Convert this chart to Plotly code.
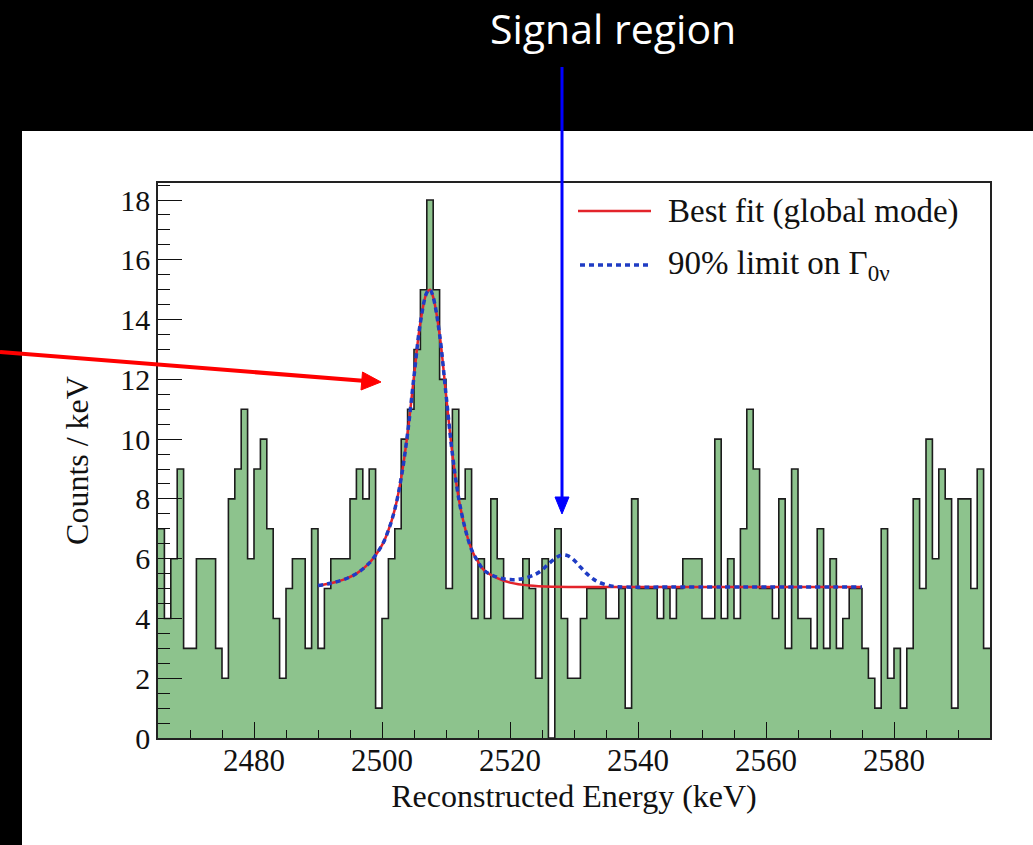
import plotly.graph_objects as go

# ---------------- data ----------------
BIN_START = 2465   # keV, lower edge of first bin
BIN_WIDTH = 1      # keV
counts = [
    7, 4, 6, 9, 3, 3, 6, 6, 6, 3,
    2, 8, 9, 11, 6, 9, 10, 7, 4, 2,
    5, 6, 6, 3, 7, 3, 5, 6, 6, 6,
    8, 9, 8, 9, 1, 4, 6, 7, 10, 11,
    13, 15, 18, 15, 12, 5, 11, 8, 9, 4,
    6, 4, 8, 6, 4, 4, 4, 6, 5, 2,
    6, 0, 7, 4, 2, 2, 4, 5, 5, 5,
    4, 4, 5, 1, 8, 5, 5, 5, 4, 5,
    4, 5, 6, 6, 6, 4, 4, 10, 4, 6,
    4, 7, 11, 9, 5, 5, 4, 8, 3, 9,
    4, 4, 3, 7, 3, 6, 3, 4, 5, 5,
    3, 2, 1, 7, 2, 3, 1, 3, 8, 5,
    10, 6, 9, 8, 1, 8, 8, 5, 9, 3,
]

fit_energy = [2490, 2492, 2494, 2496, 2498, 2500, 2501, 2502, 2503, 2504,
              2505, 2506, 2507, 2507.5, 2508, 2509, 2510, 2511, 2512, 2513,
              2514, 2515, 2516, 2518, 2520, 2523, 2527, 2535, 2575]
fit_best = [5.10, 5.18, 5.30, 5.50, 5.85, 6.45, 6.95, 7.65, 8.70, 10.2,
            12.1, 13.9, 14.9, 15.0, 14.75, 13.5, 11.5, 9.5, 8.0, 7.0,
            6.3, 5.9, 5.6, 5.35, 5.2, 5.1, 5.06, 5.05, 5.05]

lim_energy = [2490, 2492, 2494, 2496, 2498, 2500, 2501, 2502, 2503, 2504,
              2505, 2506, 2507, 2507.5, 2508, 2509, 2510, 2511, 2512, 2513,
              2514, 2515, 2516, 2518, 2520, 2522, 2524, 2525, 2526, 2527,
              2528, 2529, 2530, 2531, 2532, 2533, 2534, 2536, 2538, 2545, 2575]
lim_values = [5.10, 5.18, 5.30, 5.50, 5.85, 6.45, 6.95, 7.65, 8.70, 10.2,
              12.1, 13.9, 14.9, 15.0, 14.75, 13.5, 11.5, 9.5, 8.0, 7.0,
              6.3, 5.9, 5.6, 5.38, 5.30, 5.33, 5.48, 5.62, 5.82, 6.0,
              6.12, 6.10, 5.95, 5.72, 5.50, 5.32, 5.20, 5.08, 5.05, 5.05, 5.05]

legend_labels = ["Best fit (global mode)", "90% limit on \u0393<sub>0\u03bd</sub>"]
x_title = "Reconstructed Energy (keV)"
y_title = "Counts / keV"
callout = "Signal region"

# ---------------- layout geometry (pixels) ----------------
W, H = 1033, 845
L, R, T, B = 158, 43, 183, 107
PW, PH = W - L - R, H - T - B


def px(xp):
    return (xp - L) / PW


def py(yp):
    return (H - B - yp) / PH


edges = [BIN_START + i * BIN_WIDTH for i in range(len(counts) + 1)]
step_y = counts + [counts[-1]]

fig = go.Figure()
fig.add_trace(go.Scatter(
    x=edges, y=step_y, mode="lines", line_shape="hv",
    line=dict(color="#1c1c1c", width=1.6),
    fill="tozeroy", fillcolor="rgb(141,195,141)",
    showlegend=False, hoverinfo="skip"))
fig.add_trace(go.Scatter(
    x=fit_energy, y=fit_best, mode="lines", line_shape="spline",
    line=dict(color="#e3242b", width=2.5), showlegend=False))
fig.add_trace(go.Scatter(
    x=lim_energy, y=lim_values, mode="lines", line_shape="spline",
    line=dict(color="#1f3cc4", width=3.5, dash="5px,4px"), showlegend=False))

serif = "Liberation Serif, Times New Roman, serif"

shapes = []
# white panel behind the chart
shapes.append(dict(type="rect", xref="paper", yref="paper",
                   x0=px(22), x1=px(W + 5), y0=py(H + 5), y1=py(131),
                   fillcolor="white", line=dict(width=0), layer="below"))
# legend samples
shapes.append(dict(type="line", xref="paper", yref="paper",
                   x0=px(578), x1=px(651), y0=py(211), y1=py(211),
                   line=dict(color="#e3242b", width=2.5)))
shapes.append(dict(type="line", xref="paper", yref="paper",
                   x0=px(580), x1=px(650), y0=py(265), y1=py(265),
                   line=dict(color="#1f3cc4", width=3.5, dash="5px,4px")))
# blue "signal region" arrow
shapes.append(dict(type="line", xref="paper", yref="paper",
                   x0=px(562), x1=px(562), y0=py(67), y1=py(499),
                   line=dict(color="#0000ff", width=3)))
shapes.append(dict(type="path", xref="paper", yref="paper",
                   path=f"M {px(555)} {py(497)} L {px(569)} {py(497)} L {px(562)} {py(514)} Z",
                   fillcolor="#0000ff", line=dict(color="#0000ff", width=1)))
# red arrow
shapes.append(dict(type="line", xref="paper", yref="paper",
                   x0=px(0), x1=px(366), y0=py(352), y1=py(381),
                   line=dict(color="#ff0000", width=4)))
shapes.append(dict(type="path", xref="paper", yref="paper",
                   path=f"M {px(362.5)} {py(372)} L {px(361.0)} {py(390)} L {px(381)} {py(382)} Z",
                   fillcolor="#ff0000", line=dict(color="#ff0000", width=1)))

annotations = [
    dict(text=legend_labels[0], xref="paper", yref="paper", x=px(666), y=py(211),
         xanchor="left", yanchor="middle", showarrow=False,
         font=dict(family=serif, size=33, color="#111")),
    dict(text=legend_labels[1], xref="paper", yref="paper", x=px(666), y=py(265),
         xanchor="left", yanchor="middle", showarrow=False,
         font=dict(family=serif, size=33, color="#111")),
    dict(text=callout, xref="paper", yref="paper", x=px(613), y=py(28),
         xanchor="center", yanchor="middle", showarrow=False,
         font=dict(family="Open Sans, sans-serif", size=41, color="white")),
]

fig.update_layout(
    width=W, height=H,
    margin=dict(l=L, r=R, t=T, b=B, pad=0),
    paper_bgcolor="black", plot_bgcolor="white",
    shapes=shapes, annotations=annotations,
    showlegend=False,
    xaxis=dict(range=[BIN_START, BIN_START + BIN_WIDTH * len(counts)],
               tickmode="linear", tick0=2480, dtick=20,
               ticks="inside", ticklen=16, tickwidth=1.3, tickcolor="#111",
               minor=dict(tickmode="linear", tick0=2465, dtick=5, ticks="inside",
                          ticklen=8, tickwidth=1.2, tickcolor="#111"),
               showline=True, mirror=True, linecolor="#222", linewidth=1.5,
               showgrid=False, zeroline=False, ticklabelstandoff=-6,
               tickfont=dict(family=serif, size=31, color="#111"),
               title=dict(text=x_title, font=dict(family=serif, size=32, color="#111"),
                          standoff=0)),
    yaxis=dict(range=[0, 18.57],
               tickmode="linear", tick0=0, dtick=2,
               ticks="inside", ticklen=24, tickwidth=1.3, tickcolor="#111",
               minor=dict(tickmode="linear", tick0=0, dtick=0.5, ticks="inside",
                          ticklen=12, tickwidth=1.2, tickcolor="#111"),
               showline=True, mirror=True, linecolor="#222", linewidth=1.5,
               showgrid=False, zeroline=False,
               tickfont=dict(family=serif, size=30, color="#111"),
               title=dict(text=y_title, font=dict(family=serif, size=32, color="#111"),
                          standoff=22)),
)

fig.write_html("out.html",
               config={"displayModeBar": False},
               post_script="document.body.style.margin='0px';"
                           "document.body.style.background='black';")
